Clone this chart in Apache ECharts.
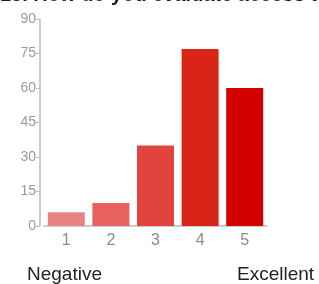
<!DOCTYPE html>
<html>
<head>
<meta charset="utf-8">
<script src="https://cdn.jsdelivr.net/npm/echarts@6/dist/echarts.min.js"></script>
<style>
  html, body { margin: 0; padding: 0; background: #fff; }
  #chart { width: 319px; height: 284px; }
</style>
</head>
<body>
<div id="chart"></div>
<script>
// answers on a 1..5 scale
var categories = ['1', '2', '3', '4', '5'];
var counts = [6, 10, 35, 77, 60];
var barColors = ['#e98282', '#e86262', '#e1443d', '#d82517', '#d40000'];
var yTicks = { min: 0, max: 90, step: 15 };
var titleText = '15. How do you evaluate access to';
var lowLabel = 'Negative';
var highLabel = 'Excellent';

var chart = echarts.init(document.getElementById('chart'));

chart.setOption({
  animation: false,
  grid: { left: 44, right: 52, top: 19, bottom: 58 },
  graphic: [
    { type: 'text', left: 0, top: -15,
      style: { text: titleText, font: 'bold 20px "Liberation Sans", Arial', fill: '#1c1c2c' } },
    { type: 'text', left: 27, top: 265,
      style: { text: lowLabel, font: '19px "Liberation Sans", Arial', fill: '#222' } },
    { type: 'text', left: 237, top: 265,
      style: { text: highLabel, font: '19px "Liberation Sans", Arial', fill: '#222' } }
  ],
  xAxis: {
    type: 'category',
    data: categories,
    axisLine: { lineStyle: { color: '#bdbdbd', width: 1.5 } },
    axisTick: { alignWithLabel: true, length: 5, lineStyle: { color: '#bdbdbd' } },
    axisLabel: { color: '#8a8a8a', fontSize: 16, fontFamily: '"Liberation Sans", Arial', margin: 7 }
  },
  yAxis: {
    type: 'value',
    min: yTicks.min,
    max: yTicks.max,
    interval: yTicks.step,
    offset: 4,
    splitLine: { show: false },
    axisLine: { show: true, lineStyle: { color: '#bdbdbd', width: 1.5 } },
    axisTick: { show: true, length: 4, lineStyle: { color: '#bdbdbd' } },
    axisLabel: { color: '#9a9a9a', fontSize: 14, fontFamily: '"Liberation Sans", Arial', margin: 4 }
  },
  series: [{
    type: 'bar',
    barWidth: 37,
    data: counts.map(function (v, i) {
      return { value: v, itemStyle: { color: barColors[i] } };
    })
  }]
});
</script>
</body>
</html>
